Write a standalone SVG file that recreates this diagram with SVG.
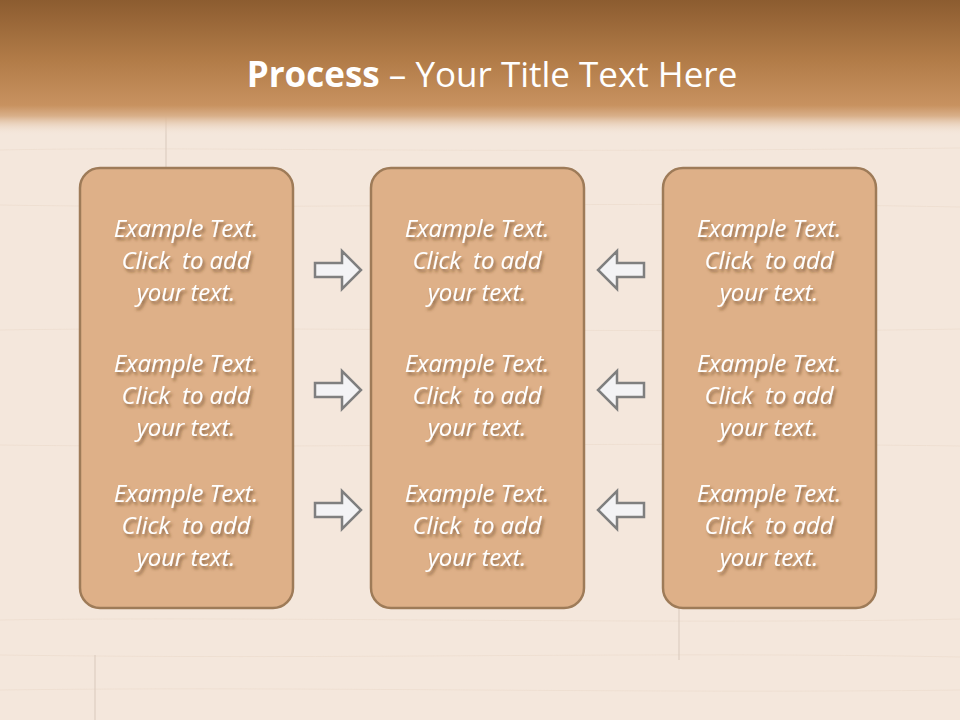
<svg xmlns="http://www.w3.org/2000/svg" width="960" height="720" viewBox="0 0 960 720">
<defs>
<linearGradient id="hdr" x1="0" y1="0" x2="0" y2="1">
<stop offset="0" stop-color="#8C5C30"/>
<stop offset="0.45" stop-color="#B27C48"/>
<stop offset="0.78" stop-color="#C89260"/>
<stop offset="0.86" stop-color="#D9B08A"/>
<stop offset="1" stop-color="#F3E4D7" stop-opacity="0"/>
</linearGradient>
<filter id="sh" x="-10%" y="-10%" width="130%" height="140%">
<feGaussianBlur in="SourceAlpha" stdDeviation="1.5"/>
<feOffset dx="2" dy="3" result="b"/>
<feFlood flood-color="#5A3A1A" flood-opacity="0.6"/>
<feComposite in2="b" operator="in"/>
<feMerge><feMergeNode/><feMergeNode in="SourceGraphic"/></feMerge>
</filter>
<path id="ra" d="M-23,-7 H4 V-19 L23,0 L4,19 V7 H-23 Z"/>
</defs>
<style>
.box{fill:#DEB088;stroke:#9E7B58;stroke-width:2.5}
.t{font-family:"Open Sans","Liberation Sans",sans-serif;font-style:italic;font-size:24px;fill:#FFFFFF;text-anchor:middle;letter-spacing:-0.1px}
.arr{fill:#F3F3F5;stroke:#7F7F7F;stroke-width:2.5;stroke-linejoin:miter}
.grain{stroke:#EBDACB;stroke-width:1;fill:none;opacity:0.6}
.seam{stroke:#D9C9BC;stroke-width:1}
</style>
<rect width="960" height="720" fill="#F4E7DC"/>
<g class="grain">
<path d="M0,150 C200,146 400,154 960,148"/>
<path d="M0,205 C300,210 600,200 960,207"/>
<path d="M0,330 C250,326 700,334 960,329"/>
<path d="M0,445 C300,449 600,441 960,446"/>
<path d="M0,620 C250,616 700,625 960,619"/>
<path d="M0,655 C350,660 650,651 960,657"/>
<path d="M0,690 C300,686 650,694 960,690"/>
</g>
<line class="seam" x1="166" y1="112" x2="166" y2="170"/>
<line class="seam" x1="679" y1="608" x2="679" y2="660"/>
<line class="seam" x1="95" y1="655" x2="95" y2="720"/>
<rect x="0" y="0" width="960" height="135" fill="url(#hdr)"/>
<text x="492" y="87" text-anchor="middle" font-family="'Open Sans','Liberation Sans',sans-serif" font-size="35" fill="#FFFFFF"><tspan font-weight="bold">Process</tspan> – Your Title Text Here</text>
<g id="box-left">
<rect class="box" x="80" y="168" width="213" height="440" rx="20"/>
<g class="t" filter="url(#sh)">
<text x="186" y="237">Example Text.</text><text x="186" y="269">Click&#160; to add</text><text x="186" y="301">your text.</text>
<text x="186" y="372">Example Text.</text><text x="186" y="404">Click&#160; to add</text><text x="186" y="436">your text.</text>
<text x="186" y="502">Example Text.</text><text x="186" y="534">Click&#160; to add</text><text x="186" y="566">your text.</text>
</g>
</g>
<g id="box-center">
<rect class="box" x="371" y="168" width="213" height="440" rx="20"/>
<g class="t" filter="url(#sh)">
<text x="477" y="237">Example Text.</text><text x="477" y="269">Click&#160; to add</text><text x="477" y="301">your text.</text>
<text x="477" y="372">Example Text.</text><text x="477" y="404">Click&#160; to add</text><text x="477" y="436">your text.</text>
<text x="477" y="502">Example Text.</text><text x="477" y="534">Click&#160; to add</text><text x="477" y="566">your text.</text>
</g>
</g>
<g id="box-right">
<rect class="box" x="663" y="168" width="213" height="440" rx="20"/>
<g class="t" filter="url(#sh)">
<text x="769" y="237">Example Text.</text><text x="769" y="269">Click&#160; to add</text><text x="769" y="301">your text.</text>
<text x="769" y="372">Example Text.</text><text x="769" y="404">Click&#160; to add</text><text x="769" y="436">your text.</text>
<text x="769" y="502">Example Text.</text><text x="769" y="534">Click&#160; to add</text><text x="769" y="566">your text.</text>
</g>
</g>
<g id="connectors">
<use href="#ra" class="arr" transform="translate(338,270)"/>
<use href="#ra" class="arr" transform="translate(338,390)"/>
<use href="#ra" class="arr" transform="translate(338,510)"/>
<use href="#ra" class="arr" transform="translate(621,270) scale(-1,1)"/>
<use href="#ra" class="arr" transform="translate(621,390) scale(-1,1)"/>
<use href="#ra" class="arr" transform="translate(621,510) scale(-1,1)"/>
</g>
</svg>
